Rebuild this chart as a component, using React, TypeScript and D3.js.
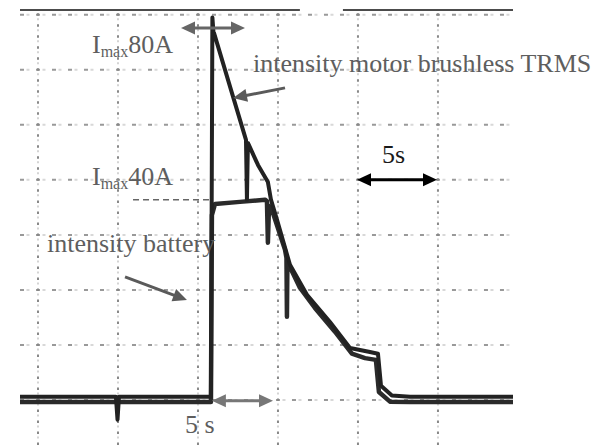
import React from 'react';
import * as d3 from 'd3';

// scope grid: 5 s per division horizontally, 12.5 A per division vertically
const gridTimes = [0, 5, 10, 15, 20, 25];
const gridAmps = [0, 12.5, 25, 37.5, 50, 62.5, 75, 87.5];

// [time s, current A]
const motorTrace: [number, number][] = [
    [-1.125, 0.7], [4.87, 0.7], [4.97, -4.5], [5.06, 0.7], [10.81, 0.7],
    [10.9, 86.9], [10.97, 83.4], [11.0, 83.4], [12.19, 68.9], [13.0, 59.1],
    [13.06, 45.5], [13.12, 58.4], [13.75, 53.4], [14.37, 49.5], [14.56, 45.5],
    [14.94, 40.9], [15.75, 30.7], [16.81, 23.9], [18.25, 17.7], [19.5, 11.8],
    [20.75, 10.9], [21.25, 10.5], [21.44, 3.2], [22.12, 1.0], [23.25, 0.7],
    [29.69, 0.7],
];

const batteryTrace: [number, number][] = [
    [-1.125, -0.5], [10.81, -0.5], [10.87, 42.0], [11.06, 44.5], [12.62, 45.0],
    [14.19, 45.5], [14.31, 45.2], [14.37, 35.7], [14.44, 44.1], [14.62, 43.2],
    [15.44, 34.1], [15.53, 32.3], [15.56, 18.9], [15.59, 31.4], [16.37, 25.5],
    [17.31, 20.9], [18.56, 15.5], [19.62, 10.5], [20.44, 9.5], [21.12, 9.1],
    [21.31, 1.8], [22.0, -0.4], [23.25, -0.5], [29.69, -0.5],
];

// top frame of the capture, with its gap
const frameSegments: [number, number][] = [[-1.125, 16.37], [19.06, 29.69]];

const x = d3.scaleLinear().domain([-1.125, 29.69]).range([20, 513]);
const y = d3.scaleLinear().domain([-10.7, 88.6]).range([447, 10]);

const line = d3.line<[number, number]>().x(d => x(d[0])).y(d => y(d[1]));

const serif = '"Liberation Serif", "Times New Roman", serif';
const gray = '#5e5e5e';

interface ArrowProps {
    x1: number; y1: number; x2: number; y2: number;
    color: string; both?: boolean; width?: number;
}

// plain arrow with filled heads, coordinates in pixels
const Arrow: React.FC<ArrowProps> = ({ x1, y1, x2, y2, color, both, width = 3 }) => {
    const len = 14, half = 6.5;
    const a = Math.atan2(y2 - y1, x2 - x1);
    const head = (px: number, py: number, ang: number) => {
        const bx = px - len * Math.cos(ang), by = py - len * Math.sin(ang);
        const nx = -Math.sin(ang) * half, ny = Math.cos(ang) * half;
        return `${px},${py} ${bx + nx},${by + ny} ${bx - nx},${by - ny}`;
    };
    const sx = both ? x1 + (len - 2) * Math.cos(a) : x1;
    const sy = both ? y1 + (len - 2) * Math.sin(a) : y1;
    const ex = x2 - (len - 2) * Math.cos(a), ey = y2 - (len - 2) * Math.sin(a);
    return (
        <g fill={color} stroke="none">
            <line x1={sx} y1={sy} x2={ex} y2={ey} stroke={color} strokeWidth={width} />
            <polygon points={head(x2, y2, a)} />
            {both && <polygon points={head(x1, y1, a + Math.PI)} />}
        </g>
    );
};

const App: React.FC = () => {
    const [x0, x1] = x.range();
    const [yBot, yTop] = y.range();

    // minor ticks: 5 per division
    const hPeriod = (x(gridTimes[1]) - x(gridTimes[0])) / 5;
    const vPeriod = (y(gridAmps[0]) - y(gridAmps[1])) / 5;
    const mod = (v: number, m: number) => ((v % m) + m) % m;
    const hOffset = mod(2.5 - (x(0) - x0), hPeriod);
    const vOffset = mod(1.5 - (y(0) - yTop), vPeriod);

    return (
        <svg width={605} height={447} style={{ position: 'absolute', left: 0, top: 0, background: '#fff' }}>
            <g>
                {gridAmps.map(a => (
                    <g key={'h' + a}>
                        <line x1={x0} x2={x1} y1={y(a)} y2={y(a)} stroke="#d8d8d8" strokeWidth={2}
                            strokeDasharray={`3,${hPeriod - 3}`} strokeDashoffset={hOffset - hPeriod / 2 + 1} />
                        <line x1={x0} x2={x1} y1={y(a)} y2={y(a)} stroke="#999" strokeWidth={2}
                            strokeDasharray={`4,${hPeriod - 4}`} strokeDashoffset={hOffset - 0.5} />
                    </g>
                ))}
                {gridTimes.map(t => (
                    <g key={'v' + t}>
                        <line x1={x(t)} x2={x(t)} y1={yTop} y2={yBot} stroke="#d4d4d4" strokeWidth={2}
                            strokeDasharray={`2,${vPeriod - 2}`} strokeDashoffset={vOffset - vPeriod / 2 + 0.5} />
                        <line x1={x(t)} x2={x(t)} y1={yTop} y2={yBot} stroke="#888" strokeWidth={2}
                            strokeDasharray={`2.5,${vPeriod - 2.5}`} strokeDashoffset={vOffset} />
                    </g>
                ))}
            </g>

            {frameSegments.map(([a, b]) => (
                <line key={a} x1={x(a)} x2={x(b)} y1={yTop} y2={yTop} stroke="#111" strokeWidth={1.5} />
            ))}

            {/* reference level of the battery plateau */}
            <line x1={x(5.94)} x2={x(10.75)} y1={y(45.5)} y2={y(45.5)} stroke="#666" strokeWidth={1.5} strokeDasharray="6,4" />

            <path d={line(batteryTrace) ?? ''} fill="none" stroke="#2a2a2a" strokeWidth={4.5} strokeLinejoin="round" />
            <path d={line(motorTrace) ?? ''} fill="none" stroke="#222" strokeWidth={4} strokeLinejoin="round" />

            <g fontFamily={serif} fontSize={26} fill={gray}>
                <text x={x(3.375)} y={y(78.9)}>I<tspan fontSize={16} dy={4}>max</tspan><tspan dy={-4}>80A</tspan></text>
                <text x={x(3.375)} y={y(48.9)}>I<tspan fontSize={16} dy={4}>max</tspan><tspan dy={-4}>40A</tspan></text>
                <text x={x(13.44)} y={y(74.5)}>intensity motor brushless TRMS</text>
                <text x={x(0.5625)} y={y(33.6)}>intensity battery</text>
                <text x={x(9.19)} y={y(-7.5)}>5 s</text>
                <text x={x(21.5)} y={y(53.9)} fill="#1a1a1a">5s</text>
            </g>

            <Arrow x1={x(15.44)} y1={y(70.9)} x2={x(12.19)} y2={y(68.6)} color="#5a5a5a" />
            <Arrow x1={x(5.44)} y1={y(27.95)} x2={x(9.31)} y2={y(22.7)} color="#5a5a5a" />
            <Arrow x1={x(8.94)} y1={y(84.5)} x2={x(12.94)} y2={y(84.5)} color="#666" both />
            <Arrow x1={x(10.87)} y1={y(-0.2)} x2={x(14.69)} y2={y(-0.2)} color="#777" both />
            <Arrow x1={x(19.94)} y1={y(50)} x2={x(24.94)} y2={y(50)} color="#000" both />
        </svg>
    );
};

export default App;
